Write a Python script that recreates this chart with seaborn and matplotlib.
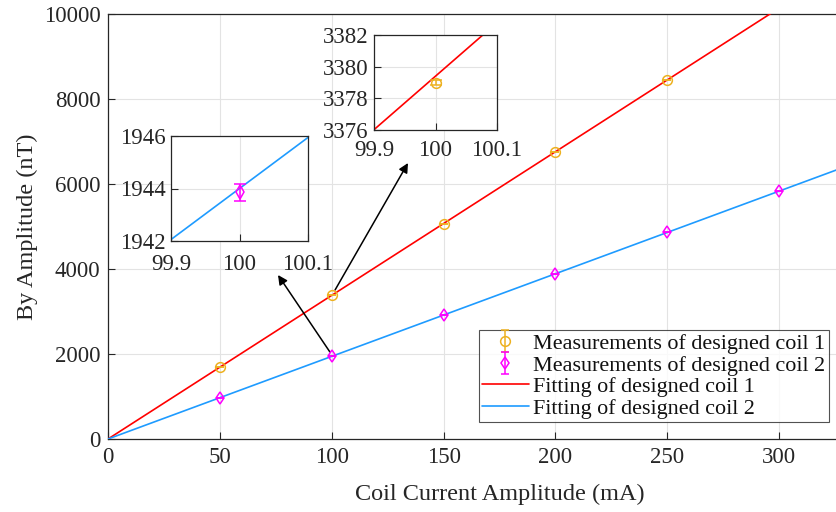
import numpy as np
import matplotlib
matplotlib.use("Agg")
import matplotlib.pyplot as plt
import seaborn as sns

# ======================================
# DATA
# ======================================
current = [50, 100, 150, 200, 250]
coil1_meas = [1690, 3379.0, 5063, 6756, 8445]
coil1_err = [0.15, 0.15, 0.15, 0.15, 0.15]

current2 = [50, 100, 150, 200, 250, 300]
coil2_meas = [972, 1943.85, 2916, 3888, 4860, 5832]
coil2_err = [0.33, 0.33, 0.33, 0.33, 0.33, 0.33]

# linear fits (slope nT/mA, intercept nT)
fit1 = (33.794, 0.0)
fit2 = (19.44, 0.0)
fit_x = np.array([0, 99.9, 100.1, 350])

xticks = [0, 50, 100, 150, 200, 250, 300]
yticks = [0, 2000, 4000, 6000, 8000, 10000]

ORANGE = "#EDB120"
MAGENTA = "#FF00FF"
RED = "#FF0000"
BLUE = "#1E9BFF"

# ======================================
# STYLE
# ======================================
sns.set_theme(style="whitegrid")
plt.rcParams['font.family'] = ['Liberation Serif', 'DejaVu Serif']
FS = 16.5


def style_axes(ax, pad_x=9, pad_y=8):
    ax.set_facecolor("white")
    for s in ax.spines.values():
        s.set_color("#262626")
        s.set_linewidth(0.9)
    ax.grid(True, color="#E3E3E3", linewidth=0.8)
    ax.tick_params(direction="in", length=5, width=0.8, colors="#262626",
                   labelsize=FS, left=True, bottom=True)
    ax.tick_params(axis="x", pad=pad_x)
    ax.tick_params(axis="y", pad=pad_y)


fig = plt.figure(figsize=(8.36, 5.12), dpi=100)
ax = fig.add_axes([108 / 836, 73 / 512, 350 * 2.237 / 836, 425 / 512])
style_axes(ax, pad_x=6, pad_y=5.5)

fit1_y = fit1[0] * fit_x + fit1[1]
fit2_y = fit2[0] * fit_x + fit2[1]

ax.errorbar(current, coil1_meas, yerr=coil1_err, fmt="o", color=ORANGE,
            mfc="none", ms=7, mew=1.1, capsize=3, elinewidth=1.1,
            label="Measurements of designed coil 1", zorder=4)
ax.errorbar(current2, coil2_meas, yerr=coil2_err, fmt="d", color=MAGENTA,
            mfc="none", ms=6, mew=1.1, capsize=3, elinewidth=1.1,
            label="Measurements of designed coil 2", zorder=4)
sns.lineplot(x=fit_x, y=fit1_y, ax=ax, color=RED, lw=1.2,
             label="Fitting of designed coil 1", zorder=3)
sns.lineplot(x=fit_x, y=fit2_y, ax=ax, color=BLUE, lw=1.2,
             label="Fitting of designed coil 2", zorder=3)

ax.set_xlim(0, 350)
ax.set_ylim(0, 10000)
ax.set_xticks(xticks)
ax.set_yticks(yticks)
ax.set_xlabel("Coil Current Amplitude (mA)", fontsize=17.5, color="#262626", labelpad=11)
ax.set_ylabel("By Amplitude (nT)", fontsize=17.5, color="#262626", labelpad=4)

handles, labels = ax.get_legend_handles_labels()
order = [labels.index(l) for l in ["Measurements of designed coil 1",
                                   "Measurements of designed coil 2",
                                   "Fitting of designed coil 1",
                                   "Fitting of designed coil 2"]]
leg = fig.legend([handles[i] for i in order], [labels[i] for i in order],
                 loc="lower left", bbox_to_anchor=(479 / 836, 90 / 512),
                 fontsize=15.9, frameon=True, fancybox=False, borderpad=0.15,
                 handlelength=2.1, handletextpad=0.2, labelspacing=0.05,
                 borderaxespad=0)
if ax.get_legend() is not None:
    ax.get_legend().remove()
leg.get_frame().set_edgecolor("#262626")
leg.get_frame().set_linewidth(0.8)
for t in leg.get_texts():
    t.set_color("#111111")

# arrows
ax.annotate("", xy=(76, 3859), xytext=(99.2, 2047),
            arrowprops=dict(arrowstyle="-|>", color="black", lw=1.1,
                            mutation_scale=14, shrinkA=0, shrinkB=0))
ax.annotate("", xy=(134.1, 6494), xytext=(101.5, 3506),
            arrowprops=dict(arrowstyle="-|>", color="black", lw=1.1,
                            mutation_scale=14, shrinkA=0, shrinkB=0))

# ======================================
# INSET 1 (coil 2)
# ======================================
ax1 = fig.add_axes([171 / 836, 1 - 241 / 512, 137 / 836, 105 / 512])
style_axes(ax1, pad_x=9, pad_y=4)
sns.lineplot(x=fit_x, y=fit2_y, ax=ax1, color=BLUE, lw=1.2, legend=False)
ax1.errorbar([current2[1]], [coil2_meas[1]], yerr=[coil2_err[1]], fmt="d",
             color=MAGENTA, mfc="none", ms=7, mew=1.1, capsize=4, elinewidth=1.1)
ax1.set_xlim(99.9, 100.1)
ax1.set_ylim(1942, 1946)
ax1.set_xticks([99.9, 100, 100.1])
ax1.set_xticklabels(["99.9", "100", "100.1"])
ax1.set_yticks([1942, 1944, 1946])

# ======================================
# INSET 2 (coil 1)
# ======================================
ax2 = fig.add_axes([374 / 836, 1 - 130 / 512, 123 / 836, 95 / 512])
style_axes(ax2, pad_x=7, pad_y=4)
sns.lineplot(x=fit_x, y=fit1_y, ax=ax2, color=RED, lw=1.2, legend=False)
ax2.errorbar([current[1]], [coil1_meas[1]], yerr=[coil1_err[1]], fmt="o",
             color=ORANGE, mfc="none", ms=7, mew=1.1, capsize=4, elinewidth=1.1)
ax2.set_xlim(99.9, 100.1)
ax2.set_ylim(3376, 3382)
ax2.set_xticks([99.9, 100, 100.1])
ax2.set_xticklabels(["99.9", "100", "100.1"])
ax2.set_yticks([3376, 3378, 3380, 3382])

for a in (ax1, ax2):
    a.set_xlabel("")
    a.set_ylabel("")

fig.savefig("out.png", dpi=100)
